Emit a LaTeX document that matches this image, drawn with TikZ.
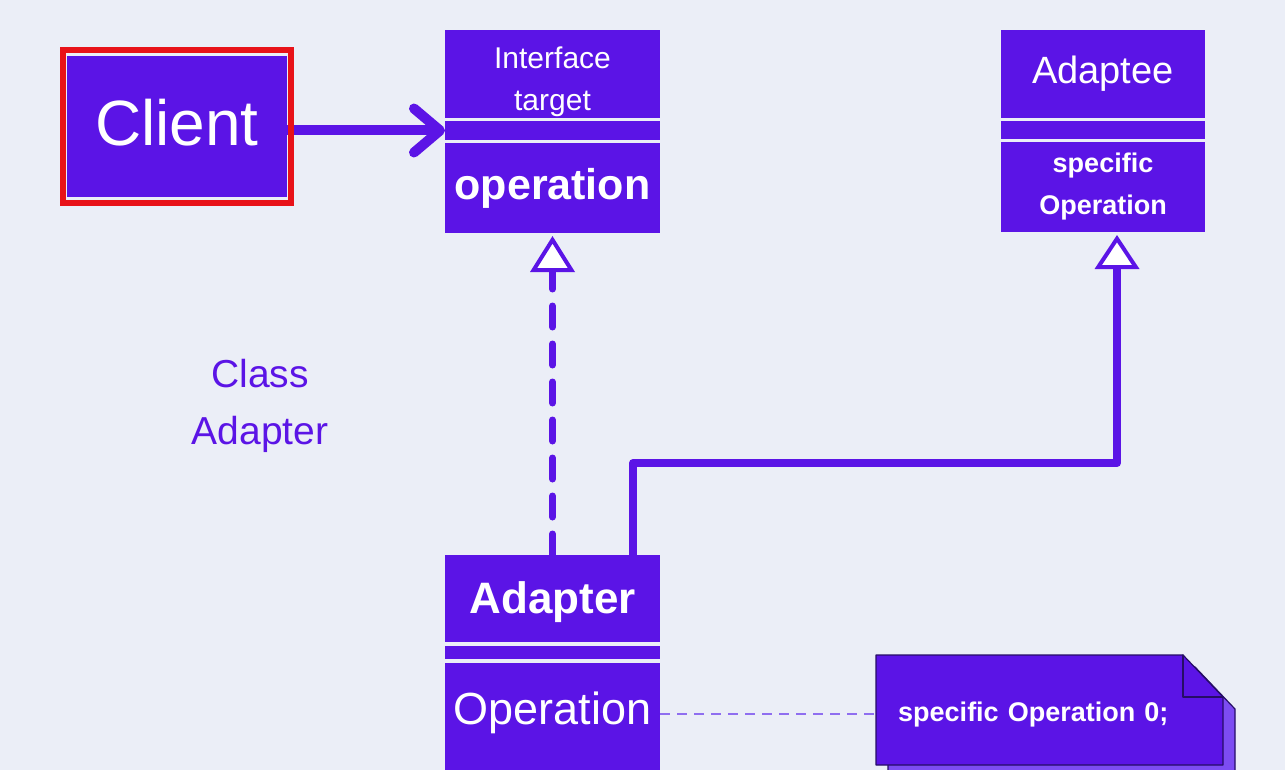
\documentclass[tikz,border=0pt]{standalone}
\usepackage{fontspec}
\setmainfont{Liberation Sans}
\usetikzlibrary{arrows.meta,positioning}
\definecolor{bgc}{rgb}{0.922,0.933,0.969}
\definecolor{ppl}{rgb}{0.357,0.078,0.902}
\definecolor{bppl}{rgb}{0.49,0.30,0.95}
\definecolor{lppl}{rgb}{0.56,0.43,0.94}
\definecolor{rdc}{rgb}{0.91,0.07,0.10}
\definecolor{dkc}{rgb}{0.15,0.05,0.40}

\begin{document}
\begin{tikzpicture}[x=1pt,y=-1pt,line cap=round,line join=round,
part/.style={fill=ppl,text=white,inner sep=0pt,outer sep=0pt,minimum width=215pt,align=center},
assoc/.style={ppl,line width=10pt,-{Straight Barb[round,length=26pt,width=44pt]}},
realize/.style={ppl,line width=7pt,dash pattern=on 21pt off 17pt,shorten >=3pt,-{Triangle[length=36pt,width=44pt,line width=4pt,fill=white]}},
inherit/.style={ppl,line width=8pt,shorten >=3pt,-{Triangle[length=34pt,width=44pt,line width=4pt,fill=white]}},
notelink/.style={lppl,line width=2pt,line cap=butt,dash pattern=on 10pt off 7pt}]
\fill[bgc] (0,0) rectangle (1285,770);
\useasboundingbox (0,0) rectangle (1285,770);
\node[part,minimum width=220pt,minimum height=141pt,text depth=8pt,font=\fontsize{64}{70}\selectfont] (client) at (177,126.5) {Client};
\node[part,minimum height=88pt,anchor=north west,text height=80pt,text depth=6pt,font=\fontsize{30}{42}\selectfont] (target-name) at (445,30) {Interface\\target};
\node[part,minimum height=19pt,below=3pt of target-name] (target-attr) {};
\node[part,minimum height=90pt,below=3pt of target-attr,font=\bfseries\fontsize{43}{50}\selectfont] (target-op) {operation};
\node[part,minimum width=204pt,minimum height=88pt,anchor=north west,font=\fontsize{38}{44}\selectfont] (adaptee-name) at (1001,30) {Adaptee};
\node[part,minimum width=204pt,minimum height=18pt,below=3pt of adaptee-name] (adaptee-attr) {};
\node[part,minimum width=204pt,minimum height=90pt,below=3pt of adaptee-attr,font=\bfseries\fontsize{27}{42}\selectfont] (adaptee-op) {specific\\Operation};
\node[part,minimum height=87pt,anchor=north west,text height=40pt,font=\bfseries\fontsize{44}{50}\selectfont] (adapter-name) at (445,555) {Adapter};
\node[part,minimum height=13pt,below=4pt of adapter-name] (adapter-attr) {};
\node[part,minimum height=108pt,below=4pt of adapter-attr,text height=33pt,text depth=18pt,font=\fontsize{45}{50}\selectfont] (adapter-op) {Operation};
\node[text=ppl,align=center,font=\fontsize{39}{57}\selectfont] (label) at (260,406) {Class\\Adapter};
\draw[assoc] (client.east |- target-attr.west) -- (target-attr.west);
\draw[rdc,line width=6pt,line cap=butt,line join=miter] ([shift={(-4pt,6pt)}]client.north west) rectangle ([shift={(4pt,-6pt)}]client.south east);
\draw[realize] (adapter-name.north) -- (target-op.south);
\coordinate (elbow) at (633,463);
\draw[inherit] ([xshift=80.5pt]adapter-name.north) |- (elbow) -| ([xshift=14pt]adaptee-op.south);
\filldraw[fill=bppl,draw=dkc,line width=1.2pt] (888,667) -- (1195,667) -- (1235,709) -- (1235,777) -- (888,777) -- cycle;
\filldraw[fill=ppl,draw=dkc,line width=1.2pt] (876,655) -- (1183,655) -- (1223,697) -- (1223,765) -- (876,765) -- cycle;
\draw[dkc,line width=1.2pt] (1183,655) -- (1183,697) -- (1223,697);
\node[anchor=north west,text=white,minimum height=110pt,text width=303pt,inner xsep=22pt,inner ysep=0pt,align=left,font=\bfseries\fontsize{27}{30}\selectfont] (note) at (876,659) {specific Operation 0;};
\draw[notelink] (adapter-op.east |- note.west) -- (note.west);
\end{tikzpicture}
\end{document}
